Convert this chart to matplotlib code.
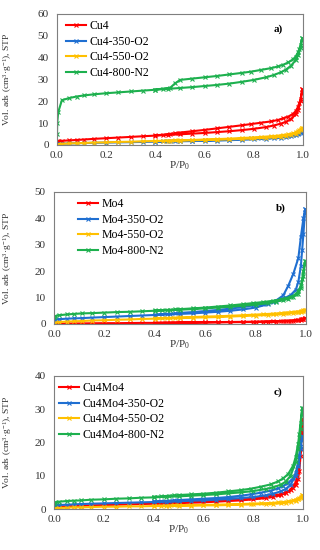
import numpy as np
import matplotlib
matplotlib.use('Agg')
import matplotlib.pyplot as plt

plt.rcParams['font.family'] = ['Liberation Serif', 'DejaVu Serif']
plt.rcParams['mathtext.fontset'] = 'custom'
plt.rcParams['mathtext.rm'] = 'Liberation Serif'
plt.rcParams['mathtext.it'] = 'Liberation Serif:italic'

# relative pressure grids: adsorption (up) and desorption (down)
p_ads = [0.0002, 0.001, 0.005, 0.02, 0.05, 0.08, 0.11, 0.15, 0.2, 0.25, 0.3, 0.35, 0.4, 0.45, 0.5,
         0.55, 0.6, 0.65, 0.7, 0.75, 0.8, 0.85, 0.88, 0.91, 0.93, 0.95, 0.97, 0.98, 0.99, 0.997]
p_des = [0.997, 0.99, 0.985, 0.98, 0.97, 0.96, 0.94, 0.92, 0.9, 0.87, 0.83, 0.79, 0.75, 0.7,
         0.65, 0.6, 0.55, 0.5, 0.48, 0.46, 0.43, 0.4]

# --- panel a: Cu4 ---
cu4_ads = [1.5, 1.6, 1.7, 1.9, 2.1, 2.3, 2.5, 2.8, 3.1, 3.4, 3.7, 4.0, 4.3, 4.6, 4.9,
           5.2, 5.5, 5.9, 6.3, 6.8, 7.4, 8.2, 8.9, 9.8, 10.6, 11.8, 14.0, 16.0, 20.0, 25.5]
cu4_des = [25.5, 21.0, 19.0, 17.5, 15.5, 14.3, 13.0, 12.2, 11.5, 10.8, 10.2, 9.6, 9.0, 8.3,
           7.6, 6.9, 6.3, 5.7, 5.4, 5.1, 4.7, 4.4]
cu4_350_ads = [0.3, 0.4, 0.5, 0.6, 0.7, 0.8, 0.9, 1.0, 1.1, 1.2, 1.3, 1.4, 1.5, 1.6, 1.7,
               1.8, 1.9, 2.0, 2.2, 2.4, 2.6, 2.9, 3.1, 3.4, 3.7, 4.1, 4.7, 5.1, 5.7, 6.3]
cu4_350_des = [6.3, 5.9, 5.6, 5.4, 5.0, 4.7, 4.3, 4.0, 3.8, 3.5, 3.2, 3.0, 2.8, 2.5,
               2.3, 2.1, 2.0, 1.9, 1.8, 1.7, 1.6, 1.5]
cu4_550_ads = [0.1, 0.2, 0.3, 0.5, 0.7, 0.8, 0.9, 1.1, 1.2, 1.4, 1.5, 1.7, 1.8, 1.9, 2.0,
               2.2, 2.3, 2.4, 2.6, 2.8, 3.0, 3.3, 3.5, 3.8, 4.1, 4.5, 5.2, 5.8, 6.8, 8.0]
cu4_550_des = [8.0, 7.3, 6.8, 6.4, 5.8, 5.4, 4.9, 4.6, 4.3, 4.0, 3.7, 3.4, 3.2, 2.9,
               2.7, 2.5, 2.3, 2.2, 2.1, 2.0, 1.9, 1.8]
cu4_800_ads = [5.0, 10.0, 15.0, 20.5, 21.5, 22.2, 22.7, 23.2, 23.7, 24.1, 24.5, 24.9, 25.3, 25.7, 26.1,
               26.5, 27.0, 27.5, 28.1, 28.9, 29.8, 31.0, 32.0, 33.3, 34.5, 36.2, 38.8, 41.0, 44.5, 49.0]
cu4_800_des = [49.0, 46.0, 44.0, 42.5, 40.5, 39.3, 37.8, 36.8, 36.0, 35.2, 34.4, 33.6, 33.0, 32.3,
               31.6, 31.0, 30.4, 29.8, 28.2, 26.2, 25.8, 25.4]

# --- panel b: Mo4 ---
mo4_ads = [0.0, 0.0, 0.05, 0.1, 0.15, 0.2, 0.2, 0.25, 0.3, 0.3, 0.35, 0.4, 0.4, 0.45, 0.5,
           0.5, 0.55, 0.6, 0.65, 0.7, 0.75, 0.85, 0.9, 1.0, 1.1, 1.2, 1.4, 1.6, 1.9, 2.3]
mo4_des = [2.3, 2.0, 1.8, 1.7, 1.5, 1.4, 1.25, 1.15, 1.05, 0.95, 0.9, 0.85, 0.8, 0.75,
           0.7, 0.65, 0.6, 0.55, 0.5, 0.5, 0.45, 0.45]
mo4_350_ads = [1.2, 1.4, 1.6, 1.8, 2.0, 2.1, 2.2, 2.4, 2.6, 2.8, 3.0, 3.2, 3.4, 3.6, 3.8,
               4.0, 4.3, 4.6, 5.0, 5.5, 6.2, 7.5, 8.8, 10.8, 14.5, 19.0, 25.0, 33.0, 40.0, 43.5]
mo4_350_des = [43.5, 34.0, 28.0, 22.0, 16.0, 13.0, 11.0, 10.0, 9.3, 8.5, 7.7, 7.0, 6.4, 5.8,
               5.3, 4.9, 4.5, 4.2, 4.0, 3.9, 3.7, 3.5]
mo4_550_ads = [0.1, 0.3, 0.5, 0.7, 0.9, 1.0, 1.1, 1.3, 1.4, 1.6, 1.7, 1.9, 2.0, 2.1, 2.2,
               2.4, 2.5, 2.6, 2.8, 3.0, 3.2, 3.4, 3.6, 3.8, 4.0, 4.2, 4.5, 4.7, 5.0, 5.4]
mo4_550_des = [5.4, 5.1, 5.0, 4.9, 4.7, 4.6, 4.4, 4.3, 4.1, 3.9, 3.7, 3.5, 3.3, 3.1,
               2.9, 2.8, 2.6, 2.5, 2.4, 2.3, 2.2, 2.1]
mo4_800_ads = [2.5, 2.8, 3.0, 3.3, 3.6, 3.8, 4.0, 4.1, 4.3, 4.5, 4.6, 4.8, 5.0, 5.2, 5.4,
               5.6, 5.9, 6.2, 6.5, 6.9, 7.3, 7.9, 8.4, 9.0, 9.6, 10.3, 11.5, 13.5, 18.0, 24.0]
mo4_800_des = [24.0, 20.0, 17.0, 14.5, 12.5, 11.3, 10.3, 9.7, 9.3, 8.8, 8.3, 7.9, 7.5, 7.0,
               6.6, 6.2, 5.9, 5.6, 5.5, 5.4, 5.2, 5.1]

# --- panel c: Cu4Mo4 ---
cm_ads = [0.4, 0.5, 0.6, 0.7, 0.8, 0.9, 1.0, 1.1, 1.2, 1.3, 1.4, 1.5, 1.6, 1.7, 1.8,
          1.9, 2.0, 2.2, 2.4, 2.6, 2.9, 3.3, 3.7, 4.2, 4.8, 5.8, 8.0, 11.0, 18.0, 27.0]
cm_des = [27.0, 16.0, 11.5, 9.0, 7.2, 6.3, 5.3, 4.7, 4.3, 3.9, 3.5, 3.2, 2.9, 2.7,
          2.5, 2.3, 2.2, 2.0, 2.0, 1.9, 1.8, 1.7]
cm_350_ads = [0.9, 1.0, 1.1, 1.2, 1.3, 1.4, 1.5, 1.6, 1.7, 1.8, 1.9, 2.0, 2.1, 2.2, 2.3,
              2.5, 2.6, 2.8, 3.0, 3.3, 3.6, 4.1, 4.6, 5.3, 6.0, 7.3, 10.0, 13.0, 18.0, 22.0]
cm_350_des = [22.0, 19.0, 16.0, 13.5, 10.8, 9.3, 7.8, 6.9, 6.2, 5.5, 4.9, 4.4, 4.0, 3.6,
              3.3, 3.1, 2.9, 2.7, 2.6, 2.5, 2.4, 2.3]
cm_550_ads = [0.0, 0.1, 0.2, 0.3, 0.4, 0.5, 0.5, 0.6, 0.7, 0.7, 0.8, 0.8, 0.9, 0.9, 1.0,
              1.0, 1.1, 1.1, 1.2, 1.3, 1.4, 1.5, 1.6, 1.7, 1.9, 2.1, 2.5, 2.9, 3.4, 4.2]
cm_550_des = [4.2, 3.6, 3.3, 3.1, 2.8, 2.6, 2.3, 2.1, 2.0, 1.8, 1.7, 1.6, 1.5, 1.4,
              1.3, 1.2, 1.2, 1.1, 1.1, 1.0, 1.0, 1.0]
cm_800_ads = [1.6, 1.8, 2.0, 2.2, 2.4, 2.5, 2.6, 2.8, 2.9, 3.1, 3.2, 3.4, 3.5, 3.7, 3.8,
              4.0, 4.2, 4.4, 4.7, 5.0, 5.4, 6.0, 6.5, 7.3, 8.2, 10.0, 14.0, 18.0, 24.0, 30.5]
cm_800_des = [30.5, 26.0, 22.5, 19.5, 15.5, 13.0, 10.5, 9.2, 8.3, 7.4, 6.7, 6.1, 5.7, 5.3,
              4.9, 4.6, 4.4, 4.2, 4.1, 4.0, 3.8, 3.7]

colors = ['#FF0000', '#1F6FD1', '#FFC000', '#1DB04E']

panels = [
    dict(rect=[0.178, 0.7364, 0.769, 0.2382], ymax=60, tag='a)',
         names=['Cu4', 'Cu4-350-O2', 'Cu4-550-O2', 'Cu4-800-N2'],
         data=[(cu4_ads, cu4_des), (cu4_350_ads, cu4_350_des),
               (cu4_550_ads, cu4_550_des), (cu4_800_ads, cu4_800_des)],
         leg=(0.035, 0.955)),
    dict(rect=[0.169, 0.411, 0.787, 0.240], ymax=50, tag='b)',
         names=['Mo4', 'Mo4-350-O2', 'Mo4-550-O2', 'Mo4-800-N2'],
         data=[(mo4_ads, mo4_des), (mo4_350_ads, mo4_350_des),
               (mo4_550_ads, mo4_550_des), (mo4_800_ads, mo4_800_des)],
         leg=(0.095, 0.955)),
    dict(rect=[0.169, 0.0745, 0.778, 0.242], ymax=40, tag='c)',
         names=['Cu4Mo4', 'Cu4Mo4-350-O2', 'Cu4Mo4-550-O2', 'Cu4Mo4-800-N2'],
         data=[(cm_ads, cm_des), (cm_350_ads, cm_350_des),
               (cm_550_ads, cm_550_des), (cm_800_ads, cm_800_des)],
         leg=(0.02, 0.955)),
]

fig = plt.figure(figsize=(3.2, 5.5), dpi=100)
p_all = np.concatenate([p_ads, p_des])
FS = 8

for pn in panels:
    ax = fig.add_axes(pn['rect'])
    for name, (ads, des), c in zip(pn['names'], pn['data'], colors):
        ax.plot(p_all, np.concatenate([ads, des]), color=c, lw=1.5, marker='x',
                ms=3.5, mew=0.8, label=name)
    ax.set_xlim(0, 1)
    ax.set_ylim(0, pn['ymax'])
    ax.set_xticks(np.arange(0, 1.01, 0.2))
    ax.set_xticklabels([f'{v:.1f}' for v in np.arange(0, 1.01, 0.2)])
    ax.set_yticks(np.arange(0, pn['ymax'] + 1, 10))
    ax.tick_params(length=0, labelsize=FS, colors='#333333')
    ax.tick_params(axis='y', pad=6)
    ax.tick_params(axis='x', pad=4)
    for s in ax.spines.values():
        s.set_color('#7f7f7f')
        s.set_linewidth(0.8)
    ax.set_xlabel('P/P$_0$', fontsize=FS, labelpad=0, color='#333333')
    ax.set_ylabel('Vol. ads (cm$^3$·g$^{-1}$), STP', fontsize=6.8, color='#333333')
    # label centred ~14 px from the left edge of the figure
    w_px = pn['rect'][2] * 320
    x0_px = pn['rect'][0] * 320
    ax.yaxis.set_label_coords((14 - x0_px) / w_px, 0.5)
    ax.text(0.9, 0.88, pn['tag'], transform=ax.transAxes, fontsize=FS,
            fontweight='bold', ha='center', va='center')
    ax.legend(loc='upper left', bbox_to_anchor=pn['leg'], frameon=False, fontsize=8.5,
              handlelength=1.7, handletextpad=0.3, labelspacing=0.32, borderaxespad=0,
              borderpad=0)

fig.savefig('out.png', dpi=100)
